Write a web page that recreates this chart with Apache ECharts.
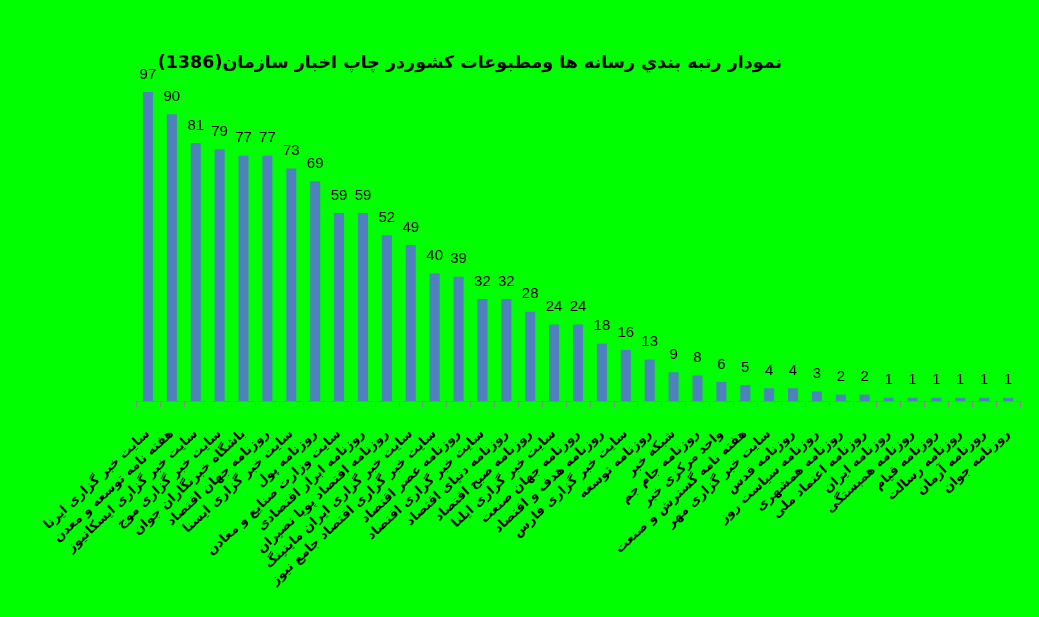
<!DOCTYPE html>
<html>
<head>
<meta charset="utf-8">
<script src="https://cdn.jsdelivr.net/npm/echarts@6/dist/echarts.min.js"></script>
<style>
html,body{margin:0;padding:0;background:#00ff00;}
#chart{width:1039px;height:617px;}
</style>
</head>
<body>
<div id="chart"></div>
<script>
var titleText = 'نمودار رتبه بندي رسانه ها ومطبوعات کشوردر چاپ اخبار سازمان(1386)';

var categories = [
  'سایت خبر گزاری ایرنا',
  'هفته نامه توسعه و معدن',
  'سایت خبر گزاری ایسکانیوز',
  'سایت خبر گزاری موج',
  'باشگاه خبرنگاران جوان',
  'روزنامه جهان اقتصاد',
  'سایت خبر گزاری ایسنا',
  'روزنامه پول',
  'سایت وزارت صنایع و معادن',
  'روزنامه ابرار اقتصادی',
  'روزنامه اقتصاد پویا نصیران',
  'سایت خبر گزاری ایران ماینینگ',
  'سایت خبر گزاری اقتصاد جامع نیوز',
  'روزنامه عصر اقتصاد',
  'سایت خبر گزاری اقتصاد',
  'روزنامه دنیای اقتصاد',
  'روزنامه صبح اقتصاد',
  'سایت خبر گزاری ایلنا',
  'روزنامه جهان صنعت',
  'روزنامه هدف و اقتصاد',
  'سایت خبر گزاری فارس',
  'روزنامه توسعه',
  'شبکه خبر',
  'روزنامه جام جم',
  'واحد مرکزی خبر',
  'هفته نامه گسترش و صنعت',
  'سایت خبر گزاری مهر',
  'روزنامه قدس',
  'روزنامه سیاست روز',
  'روزنامه همشهری',
  'روزنامه اعتماد ملی',
  'روزنامه ایران',
  'روزنامه همبستگی',
  'روزنامه قیام',
  'روزنامه رسالت',
  'روزنامه آرمان',
  'روزنامه جوان'
];

var counts = [97, 90, 81, 79, 77, 77, 73, 69, 59, 59, 52, 49, 40, 39, 32, 32, 28, 24, 24, 18, 16, 13, 9, 8, 6, 5, 4, 4, 3, 2, 2, 1, 1, 1, 1, 1, 1];

var chart = echarts.init(document.getElementById('chart'), null, {renderer: 'canvas'});
chart.setOption({
  backgroundColor: '#00ff00',
  animation: false,
  title: {
    text: titleText,
    right: 252,
    top: 49,
    textStyle: {
      fontFamily: 'DejaVu Sans',
      fontWeight: 'bold',
      fontSize: 17.5,
      color: '#000'
    }
  },
  grid: {
    left: 136,
    right: 19,
    top: 82.4,
    bottom: 216,
    containLabel: false
  },
  xAxis: {
    type: 'category',
    data: categories,
    axisLine: {show: true, lineStyle: {color: '#888888', width: 1}},
    axisTick: {show: true, length: 6, lineStyle: {color: '#888888'}},
    axisLabel: {
      interval: 0,
      rotate: 43,
      margin: 31,
      hideOverlap: false,
      fontFamily: 'DejaVu Sans',
      fontWeight: 'bold',
      fontSize: 13,
      color: '#000'
    }
  },
  yAxis: {
    type: 'value',
    min: 0,
    max: 100,
    show: false,
    splitLine: {show: false}
  },
  series: [{
    type: 'bar',
    data: counts,
    barWidth: 10,
    itemStyle: {color: '#4f81bd'},
    label: {
      show: true,
      position: 'top',
      distance: 10,
      fontFamily: 'Liberation Sans',
      fontSize: 15,
      color: '#000'
    }
  }]
});
</script>
</body>
</html>
